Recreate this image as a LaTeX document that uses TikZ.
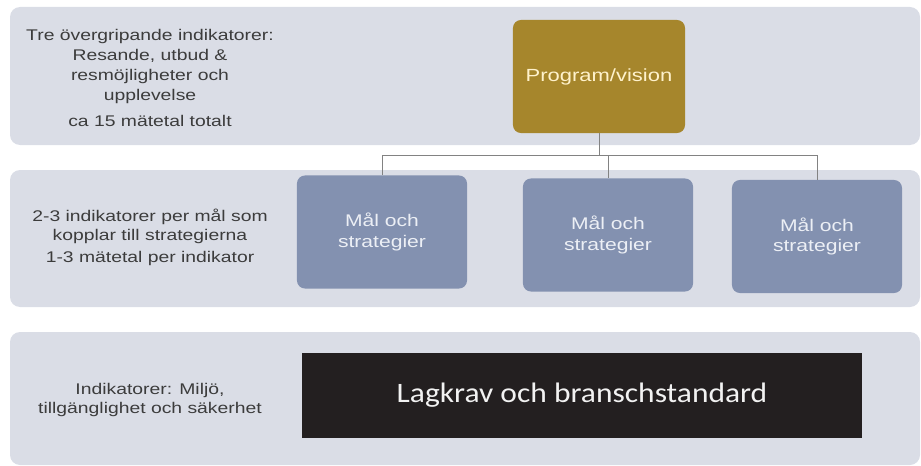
\documentclass[tikz,border=0pt]{standalone}
\usepackage{fontspec}
\setmainfont{Liberation Sans}[FakeStretch=1.25]
\newfontfamily\lagfont{Carlito}[FakeStretch=1.12]

\definecolor{bandgray}{RGB}{218,221,230}
\definecolor{gold}{RGB}{166,134,44}
\definecolor{slate}{RGB}{131,145,176}
\definecolor{inkgray}{RGB}{60,60,60}

\begin{document}
\begin{tikzpicture}[x=0.025cm, y=-0.025cm,
    band/.style={fill=bandgray, rounded corners=0.25cm},
    note/.style={align=center, text=inkgray, font=\fontsize{11}{13.5}\selectfont},
    progbox/.style={fill=gold, rounded corners=0.2cm, inner sep=0pt,
        minimum width=4.3cm, minimum height=2.825cm,
        text={rgb,255:red,255;green,242;blue,204}, font=\fontsize{12.5}{15}\selectfont},
    malbox/.style={fill=slate, rounded corners=0.2cm, inner sep=0pt, align=center,
        minimum width=4.25cm, minimum height=2.825cm,
        text={rgb,255:red,236;green,239;blue,245}, font=\fontsize{12}{14.5}\selectfont},
    conn/.style={draw={rgb,255:red,130;green,130;blue,130}, line width=0.6pt}]
\useasboundingbox (0,0) rectangle (921,466);

\foreach \top/\bot in {7/145, 170/307, 332/465} {
    \fill[band] (10,\top) rectangle (920,\bot);
}

\node[note, font=\fontsize{11}{14.2}\selectfont] (txttop) at (150,78)
    {Tre övergripande indikatorer:\\
    Resande, utbud \&\\ resmöjligheter och\\ upplevelse\\[4pt]
    ca 15 mätetal totalt};
\node[note] (txtmid) at (150,237) {2-3 indikatorer per mål som\\
    kopplar till strategierna\\[2pt] 1-3 mätetal per indikator};
\node[note] (txtlow) at (150,400) {Indikatorer: Miljö,\\
    tillgänglighet och säkerhet};

\node[progbox] (prog) at (599,76.5) {Program/vision};
\foreach \i/\x/\y in {1/382/232, 2/608/235, 3/817/236.5} {
    \node[malbox] (mal\i) at (\x,\y) {Mål och\\strategier};
}

\draw[conn] (prog.south) -- ++(0,22) coordinate (bus);
\draw[conn] (mal1.north) |- (bus) -| (mal3.north);
\draw[conn] (bus) -| (mal2.north);

\node[fill={rgb,255:red,35;green,31;blue,32}, minimum width=14cm,
    minimum height=2.125cm, inner sep=0pt, text={rgb,255:red,242;green,242;blue,242},
    font=\lagfont\fontsize{20}{24}\selectfont] (lag) at (582,395.5)
    {Lagkrav och branschstandard};
\end{tikzpicture}
\end{document}
